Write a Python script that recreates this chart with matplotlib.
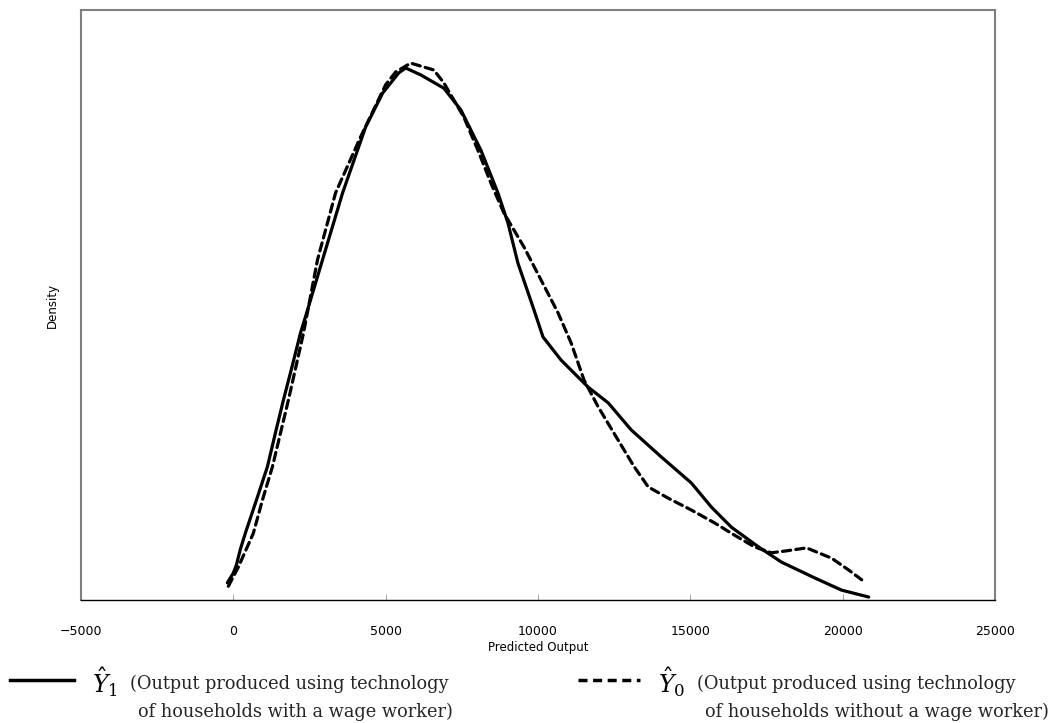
import matplotlib
matplotlib.use("Agg")
import matplotlib.pyplot as plt
from matplotlib.lines import Line2D

# Predicted output (x) and density (in units of 1e-5)
y1_x = [-197, 0, 99, 230, 395, 757, 1118, 1382, 1645, 1941, 2204, 2368, 2928, 3586, 4342,
        4901, 5428, 5658, 6151, 6908, 7467, 8125, 8684, 9013, 9342, 9868, 10164,
        10757, 11645, 12303, 13059, 14046, 15033, 15691, 16349, 17237, 17993,
        19079, 19967, 20855]
y1_d = [0.35, 0.55, 0.71, 1.03, 1.36, 2.03, 2.71, 3.40, 4.07, 4.78, 5.43, 5.76, 6.92, 8.28, 9.62,
        10.31, 10.72, 10.82, 10.68, 10.41, 9.97, 9.15, 8.28, 7.67, 6.85, 5.90, 5.35,
        4.88, 4.33, 4.01, 3.46, 2.91, 2.38, 1.89, 1.48, 1.08, 0.77, 0.45, 0.20, 0.06]

y0_x = [-164, 164, 658, 954, 1283, 1809, 2303, 2763, 3355, 4178, 5000, 5329, 5822,
        6579, 6908, 7566, 8026, 8454, 8882, 9539, 10099, 10658, 11086, 11513, 11974,
        12632, 13158, 13618, 14276, 15033, 15789, 16447, 17105, 17664, 18158, 18816,
        19638, 20197, 20625]
y0_d = [0.28, 0.67, 1.36, 2.03, 2.71, 4.07, 5.43, 6.92, 8.28, 9.42, 10.48, 10.74, 10.92,
        10.78, 10.52, 9.82, 9.15, 8.48, 7.87, 7.18, 6.51, 5.84, 5.23, 4.47, 3.93,
        3.25, 2.71, 2.30, 2.07, 1.83, 1.57, 1.32, 1.08, 0.96, 1.00, 1.06,
        0.85, 0.61, 0.41]

xticks = [-5000, 0, 5000, 10000, 15000, 20000, 25000]
xlabel = "Predicted Output"
ylabel = "Density"
leg1_sym = r"$\hat{Y}_1$"
leg0_sym = r"$\hat{Y}_0$"
leg1_lines = ["(Output produced using technology", "of households with a wage worker)"]
leg0_lines = ["(Output produced using technology", "of households without a wage worker)"]

W, H = 1059, 723
fig = plt.figure(figsize=(W / 100, H / 100), dpi=100)
plt.rcParams['mathtext.fontset'] = 'dejavuserif'

ax = fig.add_axes([81 / W, 1 - 600 / H, (995 - 81) / W, 590 / H])
ax.plot(y1_x, y1_d, color='black', lw=2.3, solid_capstyle='round', solid_joinstyle='round')
ax.plot(y0_x, y0_d, color='black', lw=2.3, dashes=(2.6, 1.6), dash_capstyle='round')

ax.set_xlim(-5000, 25000)
ax.set_ylim(0, 12)
ax.set_xticks(xticks)
ax.set_xticklabels([str(t).replace('-', '\u2212') for t in xticks], fontsize=9)
ax.set_yticks([])
ax.tick_params(axis='x', direction='in', length=4, width=0.6, color='#999999', pad=18)
for s in ['top', 'left', 'right']:
    ax.spines[s].set_color('#808080')
    ax.spines[s].set_linewidth(1.5)
ax.spines['bottom'].set_color('black')
ax.spines['bottom'].set_linewidth(1.0)

ax.set_xlabel(xlabel, fontsize=8.5, labelpad=2)
ax.set_ylabel(ylabel, fontsize=8.5, labelpad=16)

def fx(px):
    return px / W

def fy(py):
    return 1 - py / H

# legend
fig.add_artist(Line2D([fx(10), fx(74)], [fy(680), fy(680)], transform=fig.transFigure,
                      color='black', lw=2.5))
fig.add_artist(Line2D([fx(578), fx(640)], [fy(680), fy(680)], transform=fig.transFigure,
                      color='black', lw=2.5, dashes=(2.6, 1.6)))
fig.text(fx(92), fy(682), leg1_sym, fontsize=17, va='center', ha='left')
fig.text(fx(658), fy(682), leg0_sym, fontsize=17, va='center', ha='left')
for x0, lines in [(130, leg1_lines), (697, leg0_lines)]:
    fig.text(fx(x0), fy(684), lines[0], fontsize=12.8, family='DejaVu Serif',
             va='center', ha='left', color='#262626')
    fig.text(fx(x0 + 8), fy(712), lines[1], fontsize=12.8, family='DejaVu Serif',
             va='center', ha='left', color='#262626')

fig.savefig("out.png", dpi=100)
